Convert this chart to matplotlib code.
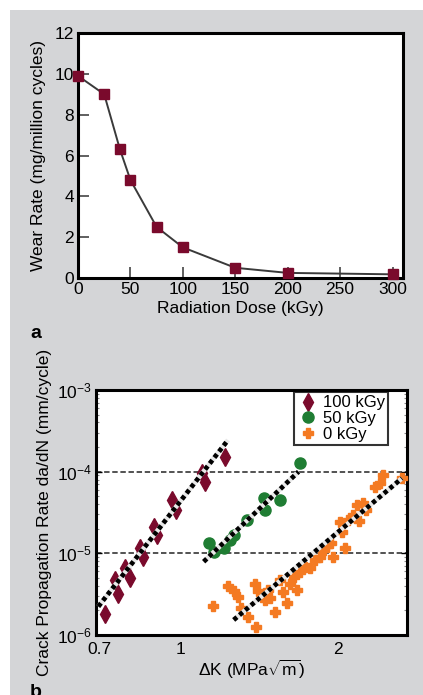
import matplotlib
matplotlib.use("Agg")
import matplotlib.pyplot as plt
from matplotlib.patches import Rectangle
from matplotlib.ticker import FixedLocator, NullFormatter, LogLocator

plt.rcParams['font.family'] = ['Liberation Sans', 'DejaVu Sans']
plt.rcParams['mathtext.fontset'] = 'custom'
plt.rcParams['mathtext.rm'] = 'Liberation Sans'
plt.rcParams['mathtext.it'] = 'Liberation Sans'

# panel a: wear rate vs dose
dose = [0, 25, 40, 50, 75, 100, 150, 200, 300]
wear = [9.9, 9.0, 6.3, 4.8, 2.5, 1.5, 0.5, 0.25, 0.18]

# panel b: crack propagation
k_100 = [0.720, 0.752, 0.762, 0.786, 0.803, 0.839, 0.850, 0.892, 0.904, 0.966, 0.983, 1.101, 1.116, 1.218]
r_100 = [1.81e-6, 4.72e-6, 3.18e-6, 6.63e-6, 5.0e-6, 1.16e-5, 9.04e-6, 2.1e-5, 1.68e-5,
         4.5e-5, 3.4e-5, 9.64e-5, 7.48e-5, 1.51e-4]

k_50 = [1.132, 1.157, 1.209, 1.245, 1.263, 1.340, 1.441, 1.452, 1.551, 1.693]
r_50 = [1.33e-5, 1.05e-5, 1.15e-5, 1.46e-5, 1.68e-5, 2.56e-5, 4.72e-5, 3.40e-5, 4.5e-5, 1.27e-4]

k_0 = [1.156, 1.234, 1.267, 1.290, 1.307, 1.347, 1.395, 1.389, 1.408, 1.471, 1.484, 1.517,
       1.551, 1.571, 1.599, 1.620, 1.649, 1.671, 1.693, 1.730, 1.769, 1.807, 1.848, 1.880,
       1.905, 1.939, 1.956, 2.035, 2.062, 2.017, 2.089, 2.135, 2.174, 2.193, 2.232, 2.261,
       2.352, 2.404, 2.436, 2.648, 1.452]
r_0 = [2.27e-6, 3.99e-6, 3.47e-6, 2.92e-6, 2.15e-6, 1.67e-6, 1.26e-6, 4.22e-6, 3.47e-6,
       3.56e-6, 2.84e-6, 1.92e-6, 4.72e-6, 3.37e-6, 2.47e-6, 4.22e-6, 5.14e-6, 3.56e-6,
       5.92e-6, 6.82e-6, 6.63e-6, 8.3e-6, 9.04e-6, 1.10e-5, 1.23e-5, 1.34e-5, 9.04e-6,
       1.83e-5, 1.16e-5, 2.42e-5, 2.56e-5, 2.95e-5, 3.91e-5, 2.49e-5, 4.14e-5, 3.40e-5,
       6.5e-5, 7.28e-5, 9.12e-5, 8.37e-5, 2.69e-6]

# fitted lines (end points)
fit100_k = [0.698, 1.233]
fit100_r = [2.23e-6, 2.44e-4]
fit50_k = [1.108, 1.68]
fit50_r = [7.9e-6, 1.0e-4]
fit0_k = [1.264, 2.644]
fit0_r = [1.53e-6, 8.3e-5]

ref_lines = [1e-4, 1e-5]

MAROON = '#7a0a2c'
GREEN = '#1f7d33'
ORANGE = '#f47a22'
BG = '#d4d5d7'

W, H = 423, 695
fig = plt.figure(figsize=(W / 100, H / 100), dpi=100)
fig.patch.set_facecolor('white')
fig.patches.append(Rectangle((10 / W, 0), 1, 1 - 10 / H, transform=fig.transFigure,
                             facecolor=BG, edgecolor='none', zorder=-10))

# ---- panel a ----
ax = fig.add_axes([78 / W, 1 - 278 / H, 325 / W, 245 / H])
ax.plot(dose, wear, color='#3a3a3a', lw=1.4, marker='s', ms=7,
        mfc=MAROON, mec=MAROON, clip_on=False, zorder=3)
ax.set_xlim(0, 310)
ax.set_ylim(0, 12)
ax.set_xticks(range(0, 301, 50))
ax.set_yticks(range(0, 13, 2))
ax.tick_params(direction='in', length=8, width=1.2, color='#444444',
               labelsize=12.5, pad=3)
for s in ax.spines.values():
    s.set_linewidth(2.2)
ax.set_xlabel('Radiation Dose (kGy)', fontsize=12.5, labelpad=3)
ax.set_ylabel('Wear Rate (mg/million cycles)', fontsize=12.5, labelpad=6)
fig.text(36 / W, 1 - 333 / H, 'a', fontsize=14, fontweight='bold',
         ha='center', va='center')

# ---- panel b ----
bx = fig.add_axes([95.7 / W, 1 - 635 / H, 311 / W, 245 / H])
bx.set_xscale('log')
bx.set_yscale('log')
bx.set_xlim(0.69, 2.7)
bx.set_ylim(1e-6, 1e-3)

for yv in ref_lines:
    bx.axhline(yv, color='#444444', lw=1.3, ls=(0, (3, 1.5)), zorder=1)

bx.plot(k_100, r_100, 'd', ms=9, color=MAROON, label='100 kGy', zorder=3)
bx.plot(k_50, r_50, 'o', ms=8, color=GREEN, label='50 kGy', zorder=3)
bx.plot(k_0, r_0, 'P', ms=7.5, color=ORANGE, mec=ORANGE, label='0 kGy', zorder=3, clip_on=False)

for fk, fr in [(fit100_k, fit100_r), (fit50_k, fit50_r), (fit0_k, fit0_r)]:
    bx.plot(fk, fr, color='#e8e8e8', lw=3.4, solid_capstyle='butt', zorder=4)
    bx.plot(fk, fr, color='black', lw=3.4, ls=(0, (0.9, 0.7)),
            dash_capstyle='butt', zorder=5)

bx.xaxis.set_major_locator(FixedLocator([0.7, 1, 2]))
bx.xaxis.set_major_formatter(plt.FixedFormatter(['0.7', '1', '2']))
bx.xaxis.set_minor_locator(FixedLocator([]))
bx.tick_params(axis='x', length=0, labelsize=12.5, pad=5)
bx.yaxis.set_minor_locator(LogLocator(base=10, subs=range(2, 10), numticks=20))
bx.yaxis.set_minor_formatter(NullFormatter())
bx.tick_params(axis='y', which='major', direction='in', length=4, width=1,
               left=True, right=True, labelsize=12.5, pad=3)
bx.tick_params(axis='y', which='minor', direction='in', length=2.5, width=0.8,
               color='#888888', left=True, right=True)
for s in bx.spines.values():
    s.set_linewidth(2.2)
bx.set_xlabel(r'$\Delta$K (MPa$\sqrt{\mathrm{m}}$)', fontsize=12.5, labelpad=1)
bx.set_ylabel('Crack Propagation Rate da/dN (mm/cycle)', fontsize=12.5, labelpad=3)

leg = bx.legend(loc='upper right', bbox_to_anchor=(388 / W, 1 - 392 / H),
                bbox_transform=fig.transFigure, fontsize=12, frameon=True,
                fancybox=False, borderpad=0.2, labelspacing=0.05,
                handletextpad=0.3, handlelength=1.2, borderaxespad=0)
leg.get_frame().set_edgecolor('black')
leg.get_frame().set_linewidth(1.5)

fig.text(36 / W, 1 - 684 / H, 'b', fontsize=14, fontweight='bold',
         ha='center', va='top')

fig.savefig('out.png', dpi=100)
